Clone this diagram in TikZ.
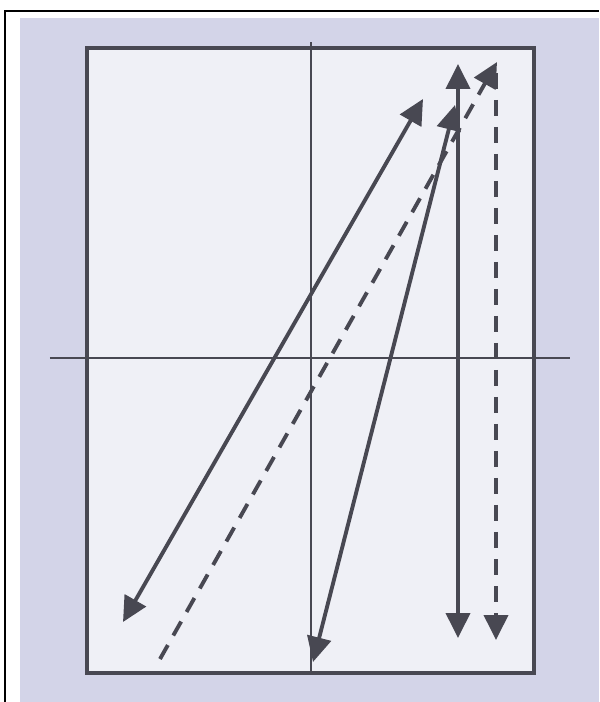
\documentclass[tikz,border=0pt]{standalone}
\usetikzlibrary{arrows.meta}
\definecolor{paper}{HTML}{D3D4E8}
\definecolor{chart}{HTML}{EFF0F6}
\definecolor{ink}{HTML}{484852}
\begin{document}
\begin{tikzpicture}[>={Triangle[length=5mm,width=4.8mm]},
  vec/.style={ink,line width=2.2pt},
  dvec/.style={vec,dash pattern=on 3.2mm off 2.2mm}]
\useasboundingbox (-6.22,-6.88) rectangle (5.76,7.16);
\fill[white] (-6.22,-6.88) rectangle (5.76,7.16);
\fill[paper] (-5.82,-6.88) rectangle (5.76,6.8);
\draw[line width=1.2pt] (-6.12,-6.88)--(-6.12,6.94)--(5.76,6.94);
\draw[ink,line width=2pt,fill=chart] (-4.48,-6.3) rectangle (4.46,6.2);
\draw[ink,line width=1.3pt] (0,-6.3)--(0,6.32); \draw[ink,line width=1.3pt] (-5.22,0)--(5.18,0);
\draw[vec,<->] (-3.76,-5.28)--(2.24,5.18);
\draw[vec,<->] (0.04,-6.08)--(2.88,5.06);
\draw[vec,<->] (2.94,-5.6)--(2.94,5.88);
\draw[dvec,->] (-3.02,-6.02)--(3.72,5.92);
\draw[dvec,->] (3.7,5.7)--(3.7,-5.64);
\end{tikzpicture}
\end{document}
